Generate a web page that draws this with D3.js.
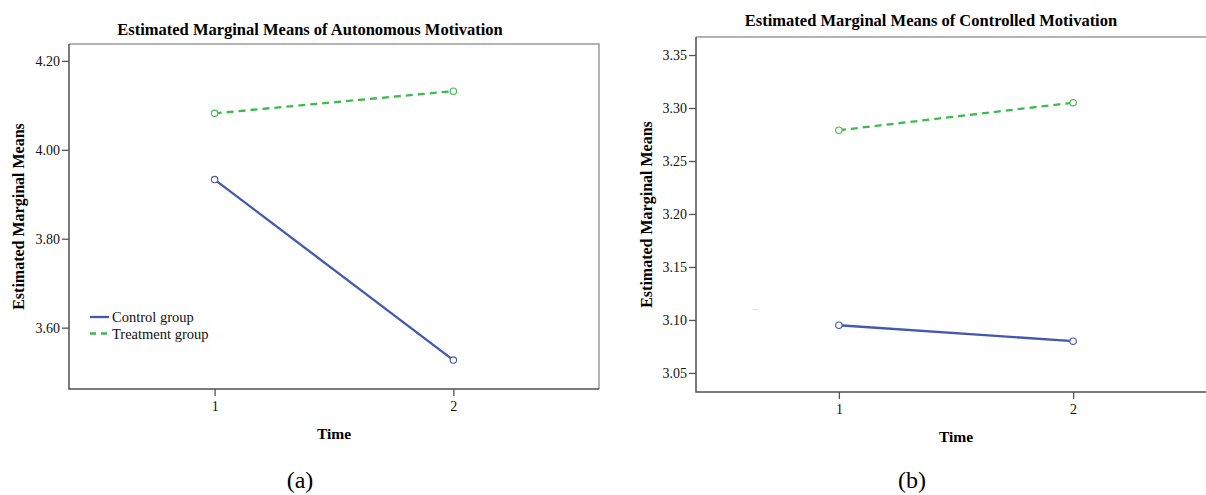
<!DOCTYPE html>
<html>
<head>
<meta charset="utf-8">
<script src="https://cdn.jsdelivr.net/npm/d3@7"></script>
<style>
  body { margin: 0; background: #fff; }
  svg, svg text { font-family: "Liberation Serif", "Times New Roman", serif; }
  svg { display: block; }
  .tick text { font-family: "Liberation Serif", serif; font-size: 14px; fill: #111; }
  .tick line { stroke: #555; stroke-width: 1.3; }
</style>
</head>
<body>
<div id="chart"></div>
<script>
// values
const times = [1, 2];
const groups = ["Control group", "Treatment group"];
const autonomousControl = [3.933, 3.527];
const autonomousTreatment = [4.082, 4.132];
const controlledControl = [3.095, 3.080];
const controlledTreatment = [3.279, 3.305];
const autonomousTicks = [3.60, 3.80, 4.00, 4.20];
const controlledTicks = [3.05, 3.10, 3.15, 3.20, 3.25, 3.30, 3.35];

const colors = ["#4558b0", "#3dbb4c"];

const svg = d3.select("#chart")
    .append("svg")
    .attr("width", 1206)
    .attr("height", 495);

function drawPanel(p) {
    let x = d3.scaleLinear().domain([0.39, 2.61]).range([p.left, p.right]);
    let y = d3.scaleLinear().domain(p.yDomain).range([p.bottom, p.top]);

    let g = svg.append("g");

    // frame, dark on left/bottom, lighter on top/right
    g.append("path")
        .attr("d", `M${p.left},${p.top}H${p.right}V${p.bottom}`)
        .attr("fill", "none")
        .attr("stroke", "#9a9a9a")
        .attr("stroke-width", 1.5);
    g.append("path")
        .attr("d", `M${p.left},${p.top}V${p.bottom}H${p.right}`)
        .attr("fill", "none")
        .attr("stroke", "#505050")
        .attr("stroke-width", 1.5);

    let yAxis = d3.axisLeft(y)
        .tickValues(p.ticks)
        .tickSize(7)
        .tickPadding(2)
        .tickFormat(d3.format(".2f"));
    g.append("g")
        .attr("class", "axis y-axis")
        .attr("transform", "translate(" + p.left + ",0)")
        .call(yAxis)
        .attr("font-family", null)
        .attr("font-size", null)
        .call(a => a.select(".domain").remove());

    let xAxis = d3.axisBottom(x)
        .tickValues(times)
        .tickSize(7)
        .tickPadding(5)
        .tickFormat(d3.format("d"));
    g.append("g")
        .attr("class", "axis x-axis")
        .attr("transform", "translate(0," + p.bottom + ")")
        .call(xAxis)
        .attr("font-family", null)
        .attr("font-size", null)
        .call(a => a.select(".domain").remove());

    // lines + open markers
    let series = [p.control, p.treatment];
    let line = d3.line()
        .x((d, i) => x(times[i]))
        .y(d => y(d));
    series.forEach((s, k) => {
        g.append("path")
            .datum(s)
            .attr("d", line)
            .attr("fill", "none")
            .attr("stroke", colors[k])
            .attr("stroke-width", 2.3)
            .attr("stroke-dasharray", k == 1 ? "7,5" : null);
        g.selectAll(null)
            .data(s)
            .enter()
            .append("circle")
            .attr("cx", (d, i) => x(times[i]))
            .attr("cy", d => y(d))
            .attr("r", 3.2)
            .attr("fill", "#fff")
            .attr("stroke", colors[k])
            .attr("stroke-width", 1.1);
    });

    g.append("text")
        .attr("x", p.titleX)
        .attr("y", p.titleY)
        .attr("text-anchor", "middle")
        .style("font-size", "16.5px")
        .style("font-weight", "bold")
        .text(p.title);

    g.append("text")
        .attr("transform", `translate(${p.yLabelX},${(p.top + p.bottom) / 2}) rotate(-90)`)
        .attr("text-anchor", "middle")
        .style("font-size", "16px")
        .style("font-weight", "bold")
        .text("Estimated Marginal Means");

    g.append("text")
        .attr("x", (x(1) + x(2)) / 2)
        .attr("y", p.bottom + 50)
        .attr("text-anchor", "middle")
        .style("font-size", "15.5px")
        .style("font-weight", "bold")
        .text("Time");

    g.append("text")
        .attr("x", p.captionX)
        .attr("y", 488)
        .attr("text-anchor", "middle")
        .style("font-size", "24px")
        .text(p.caption);

    return g;
}

let a = drawPanel({
    left: 69, right: 599, top: 44, bottom: 389,
    yDomain: [3.462, 4.238], ticks: autonomousTicks,
    control: autonomousControl, treatment: autonomousTreatment,
    title: "Estimated Marginal Means of Autonomous Motivation",
    titleX: 310, titleY: 35, yLabelX: 24, captionX: 300, caption: "(a)"
});

// legend only in panel (a)
let key = a.append("g").attr("transform", "translate(90,317)");
groups.forEach((name, k) => {
    key.append("line")
        .attr("x1", 0).attr("x2", 19)
        .attr("y1", k * 16.5).attr("y2", k * 16.5)
        .attr("stroke", colors[k])
        .attr("stroke-width", 2.3)
        .attr("stroke-dasharray", k == 1 ? "6,5" : null);
    key.append("text")
        .attr("x", 22)
        .attr("y", k * 16.5 + 5)
        .style("font-size", "14.5px")
        .style("fill", "#111")
        .text(name);
});

let b = drawPanel({
    left: 696, right: 1216, top: 37, bottom: 392,
    yDomain: [3.032, 3.367], ticks: controlledTicks,
    control: controlledControl, treatment: controlledTreatment,
    title: "Estimated Marginal Means of Controlled Motivation",
    titleX: 931, titleY: 26, yLabelX: 652, captionX: 912, caption: "(b)"
});

b.append("text")
    .attr("x", 755)
    .attr("y", 310)
    .attr("text-anchor", "middle")
    .style("font-size", "7px")
    .style("fill", "#999")
    .text("...");
</script>
</body>
</html>
